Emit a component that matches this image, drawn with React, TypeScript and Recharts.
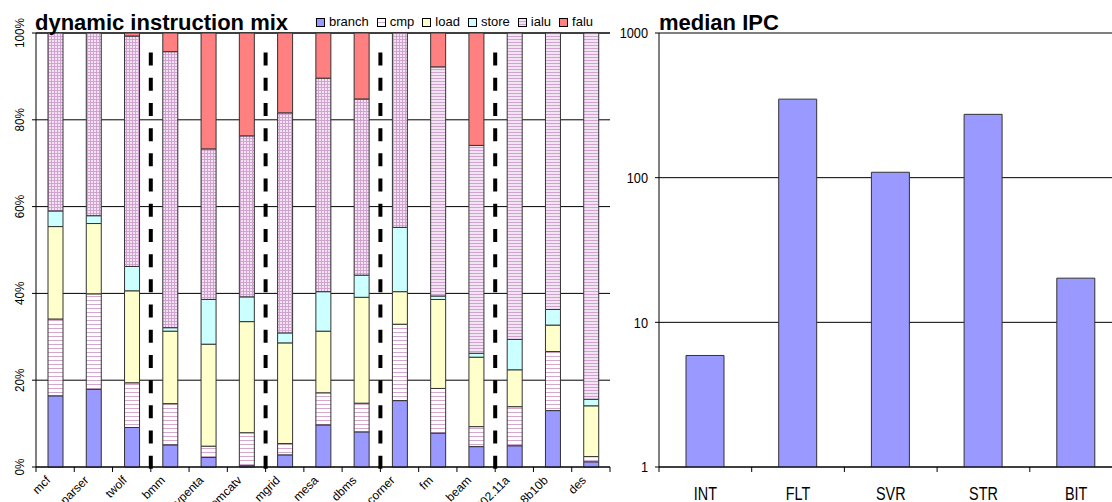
import React from "react";
import { BarChart, Bar, XAxis, YAxis, CartesianGrid, ReferenceLine, Cell } from "recharts";

// left panel: dynamic instruction mix (% of instructions)
const benchmarks = ["mcf", "parser", "twolf", "bmm", "vpenta", "tomcatv", "mgrid", "mesa", "dbms", "corner", "fm", "beam", "802.11a", "8b10b", "des"];
const branch = [16.4, 17.9, 9.1, 5.1, 2.2, 0.3, 2.8, 9.7, 8.1, 15.3, 7.8, 4.7, 4.9, 13.0, 1.2];
const cmp = [17.7, 22.0, 10.3, 9.5, 2.6, 7.6, 2.6, 7.4, 6.6, 17.6, 10.3, 4.6, 9.0, 13.6, 1.2];
const load = [21.3, 16.2, 21.2, 16.7, 23.5, 25.6, 23.2, 14.2, 24.4, 7.5, 20.5, 16.0, 8.5, 6.1, 11.7];
const store = [3.6, 1.8, 5.6, 0.8, 10.3, 5.7, 2.3, 9.1, 5.1, 14.8, 0.8, 0.9, 7.0, 3.6, 1.5];
const ialu = [41.0, 42.1, 53.1, 63.6, 34.7, 37.1, 50.7, 49.2, 40.6, 44.8, 52.8, 47.9, 70.6, 63.7, 84.4];
const falu = [0, 0, 0.7, 4.3, 26.7, 23.7, 18.4, 10.4, 15.2, 0, 7.8, 25.9, 0, 0, 0];
// dashed separators sit before these benchmark indices
const groupBreaks = [3, 6, 9, 12];
const pctTicks = [0, 20, 40, 60, 80, 100];

// right panel: median IPC per suite (log scale)
const suites = ["INT", "FLT", "SVR", "STR", "BIT"];
const medianIpc = [5.9, 349, 109, 274, 20.2];
const ipcTicks = [1, 10, 100, 1000];

const mixRows = benchmarks.map((name, i) => ({
  name, branch: branch[i], cmp: cmp[i], load: load[i], store: store[i], ialu: ialu[i], falu: falu[i],
}));
const ipcRows = suites.map((name, i) => ({ name, ipc: medianIpc[i] }));

const series = [
  { key: "branch", fill: "#9999FF" },
  { key: "cmp", fill: "url(#cmpHatch)" },
  { key: "load", fill: "#FFFFCC" },
  { key: "store", fill: "#CCFFFF" },
  { key: "ialu", fill: "url(#ialuGrid)" },
  { key: "falu", fill: "#FF8080" },
];

const FONT = "'Liberation Sans', Arial, sans-serif";

const MIX_W = 620, MIX_PLOT_W = 574;
const IPC_W = 530, IPC_PLOT_W = 463.5;
const mixBand = MIX_PLOT_W / benchmarks.length;
const ipcBand = IPC_PLOT_W / suites.length;

function MixTick(props: any) {
  const { x, y, payload, index } = props;
  const tx = x - 4, ty = y + 14;
  return (
    <g>
      <line x1={x - mixBand / 2} x2={x - mixBand / 2} y1={y} y2={y + 5} stroke="#000" />
      {index === benchmarks.length - 1 && <line x1={x + mixBand / 2} x2={x + mixBand / 2} y1={y} y2={y + 5} stroke="#000" />}
      <text x={0} y={0} transform={`translate(${tx} ${ty}) rotate(-45)`} textAnchor="end" fontSize={12} fontFamily={FONT} fill="#000">
        {payload.value}
      </text>
    </g>
  );
}

function PctTick(props: any) {
  const { y, payload } = props;
  const tx = 23.5;
  return (
    <text x={0} y={0} transform={`translate(${tx} ${y}) rotate(-90) scale(0.9 1)`} textAnchor="middle" fontSize={13} fontFamily={FONT} fill="#000">
      {payload.value}%
    </text>
  );
}

function IpcTick(props: any) {
  const { x, y, payload } = props;
  return (
    <text x={0} y={0} transform={`translate(${x} ${y}) scale(0.85 1)`} textAnchor="end" dy="0.36em" fontSize={15} fontFamily={FONT} fill="#000">
      {payload.value}
    </text>
  );
}

function SuiteTick(props: any) {
  const { x, y, payload, index } = props;
  return (
    <g>
      <line x1={x - ipcBand / 2} x2={x - ipcBand / 2} y1={y} y2={y + 5} stroke="#000" />
      {index === suites.length - 1 && <line x1={x + ipcBand / 2} x2={x + ipcBand / 2} y1={y} y2={y + 5} stroke="#000" />}
      <text x={0} y={0} transform={`translate(${x} ${y + 33}) scale(0.8 1)`} textAnchor="middle" fontSize={18} fontFamily={FONT} fill="#000">
        {payload.value}
      </text>
    </g>
  );
}

function Separator(p: any) {
  return (
    <line x1={p.x1 - mixBand / 2} y1={p.y1} x2={p.x2 - mixBand / 2} y2={p.y2} stroke="#000" strokeWidth={4} strokeDasharray="13 12.2" />
  );
}

function Swatch({ fill }: { fill: string }) {
  return (
    <svg width={9} height={9} style={{ display: "block" }}>
      <rect x={0.5} y={0.5} width={8} height={8} fill={fill} stroke="#000" />
    </svg>
  );
}

export default function App() {
  return (
    <div style={{ position: "absolute", left: 0, top: 0, width: 1112, height: 502, overflow: "hidden", background: "#fff" }}>
      <div style={{ position: "absolute", left: 0, top: 0 }}>
        <BarChart width={MIX_W} height={502} data={mixRows} margin={{ top: 33, right: MIX_W - 36 - MIX_PLOT_W, bottom: 0, left: 0 }} barSize={15}>
          <defs>
            <pattern id="cmpHatch" width={4} height={4} patternUnits="userSpaceOnUse">
              <rect width={4} height={4} fill="#fff" />
              <line x1={0} y1={0.5} x2={4} y2={0.5} stroke="#D4A8CC" strokeWidth={1} />
            </pattern>
            <pattern id="ialuGrid" width={3} height={3} patternUnits="userSpaceOnUse">
              <rect width={3} height={3} fill="#F3E3F3" />
              <path d="M0 0.5H3M0.5 0V3" stroke="#D0A2D0" strokeWidth={1} />
            </pattern>
            <pattern id="ialuLines" width={3} height={3} patternUnits="userSpaceOnUse">
              <rect width={3} height={3} fill="#F3E4F3" />
              <line x1={0} y1={0.5} x2={3} y2={0.5} stroke="#D0A2D0" strokeWidth={1} />
            </pattern>
          </defs>
          <CartesianGrid vertical={false} stroke="#000" />
          <XAxis dataKey="name" interval={0} height={35} tickSize={0} tickMargin={0} axisLine={{ stroke: "#000" }} tick={<MixTick />} />
          <YAxis width={36} domain={[0, 100]} ticks={pctTicks} interval={0} tickSize={4} axisLine={{ stroke: "#000" }} tickLine={{ stroke: "#000" }} tick={<PctTick />} />
          {series.map((s) => (
            <Bar key={s.key} dataKey={s.key} stackId="mix" fill={s.fill} stroke="#333" strokeWidth={1} isAnimationActive={false}>
              {s.key === "ialu" && mixRows.map((r, i) => <Cell key={r.name} fill={i < 10 ? "url(#ialuGrid)" : "url(#ialuLines)"} />)}
            </Bar>
          ))}
          {groupBreaks.map((b) => (
            <ReferenceLine key={b} segment={[{ x: benchmarks[b], y: 95.5 }, { x: benchmarks[b], y: -0.7 }]} ifOverflow="visible" shape={Separator} />
          ))}
        </BarChart>
      </div>

      <div style={{ position: "absolute", left: 600, top: 0 }}>
        <BarChart width={IPC_W} height={502} data={ipcRows} margin={{ top: 33, right: IPC_W - 59 - IPC_PLOT_W, bottom: 0, left: 0 }} barSize={38}>
          <CartesianGrid vertical={false} stroke="#000" />
          <XAxis dataKey="name" interval={0} height={35} tickSize={0} tickMargin={0} axisLine={{ stroke: "#000" }} tick={<SuiteTick />} />
          <YAxis width={59} scale="log" domain={[1, 1000]} ticks={ipcTicks} allowDataOverflow interval={0} tickSize={4} tickMargin={7}
            axisLine={{ stroke: "#000" }} tickLine={{ stroke: "#000" }} tick={<IpcTick />} />
          <Bar dataKey="ipc" fill="#9999FF" stroke="#333" strokeWidth={1} isAnimationActive={false} />
        </BarChart>
      </div>

      <svg width={1112} height={502} style={{ position: "absolute", left: 0, top: 0, pointerEvents: "none" }}>
        <text x={35} y={30} fontSize={22} fontWeight="bold" fontFamily={FONT} fill="#000">dynamic instruction mix</text>
        <text x={659} y={30} fontSize={22} fontWeight="bold" fontFamily={FONT} fill="#000">median IPC</text>
      </svg>

      <div style={{ position: "absolute", left: 316, top: 14, display: "flex", gap: 8, fontFamily: FONT, fontSize: 13, lineHeight: "16px" }}>
        {series.map((s) => (
          <div key={s.key} style={{ display: "flex", alignItems: "center", gap: 4 }}>
            <Swatch fill={s.key === "ialu" ? "url(#ialuLines)" : s.fill} />
            <span>{s.key}</span>
          </div>
        ))}
      </div>
    </div>
  );
}
